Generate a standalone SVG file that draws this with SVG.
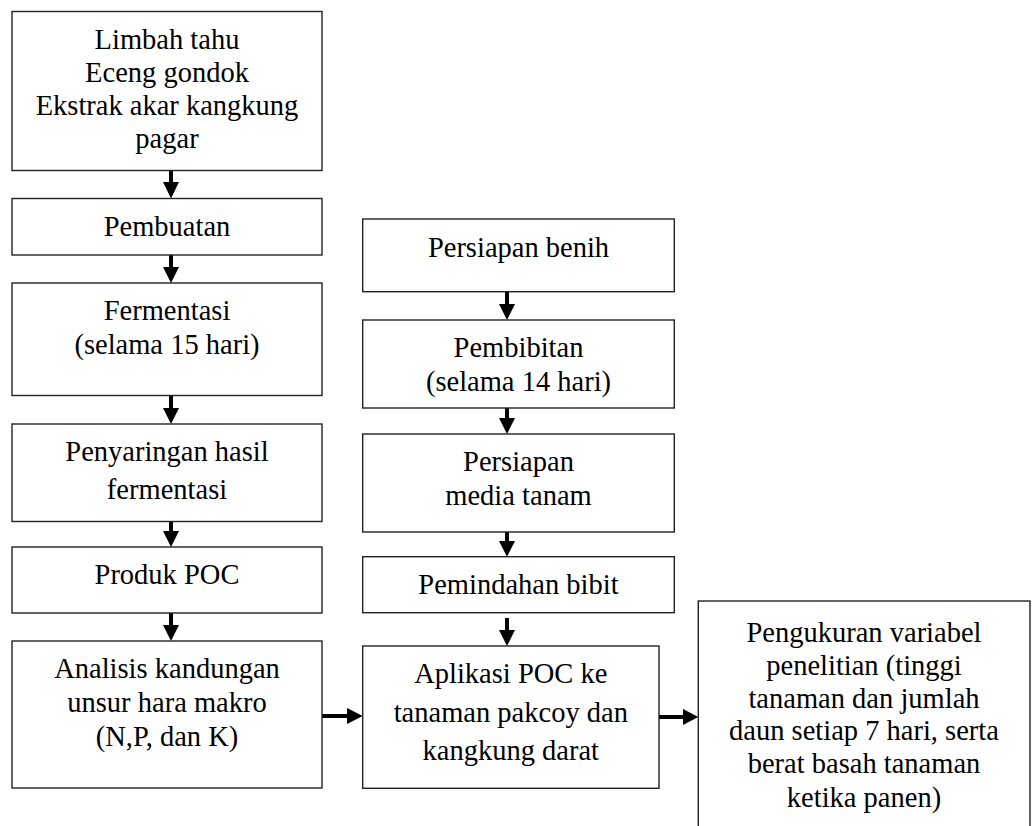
<svg xmlns="http://www.w3.org/2000/svg" width="1032" height="826" viewBox="0 0 1032 826">
<defs>
<style>
.box{fill:#fff;stroke:#222;stroke-width:1.4}
.lbl{font-family:"Liberation Serif","Times New Roman",serif;font-size:28.5px;fill:#000;text-anchor:middle}
.sh{stroke:#000;stroke-width:4;fill:none}
.hd{fill:#000}
</style>
</defs>
<rect width="1032" height="826" fill="#fff"/>
<g id="connectors">
<line class="sh" x1="171" y1="170.5" x2="171" y2="184"/><polygon class="hd" points="163,182 179,182 171,198.5"/>
<line class="sh" x1="171" y1="255" x2="171" y2="269"/><polygon class="hd" points="163,267 179,267 171,283"/>
<line class="sh" x1="171" y1="395.5" x2="171" y2="410"/><polygon class="hd" points="163,408 179,408 171,424"/>
<line class="sh" x1="171" y1="521.5" x2="171" y2="533"/><polygon class="hd" points="163,531 179,531 171,547"/>
<line class="sh" x1="171" y1="613" x2="171" y2="627"/><polygon class="hd" points="163,625 179,625 171,641"/>
<line class="sh" x1="507" y1="291.7" x2="507" y2="306"/><polygon class="hd" points="499,304 515,304 507,320"/>
<line class="sh" x1="507" y1="408" x2="507" y2="420"/><polygon class="hd" points="499,418 515,418 507,434"/>
<line class="sh" x1="507" y1="532" x2="507" y2="543"/><polygon class="hd" points="499,541 515,541 507,556.7"/>
<line class="sh" x1="507" y1="618" x2="507" y2="632"/><polygon class="hd" points="499,630 515,630 507,646"/>
<line class="sh" x1="322" y1="716" x2="349" y2="716"/><polygon class="hd" points="347,708 347,724 362.7,716"/>
<line class="sh" x1="659" y1="717" x2="685" y2="717"/><polygon class="hd" points="683,709 683,725 698.3,717"/>
</g>
<g id="n1"><rect class="box" x="12" y="11.5" width="310" height="159"/>
<text class="lbl"><tspan x="167" y="49">Limbah tahu</tspan><tspan x="167" y="82">Eceng gondok</tspan><tspan x="167" y="115">Ekstrak akar kangkung</tspan><tspan x="167" y="147.5">pagar</tspan></text></g>
<g id="n2"><rect class="box" x="12" y="198.5" width="310" height="56.5"/>
<text class="lbl" x="167" y="236">Pembuatan</text></g>
<g id="n3"><rect class="box" x="12" y="283" width="310" height="112.5"/>
<text class="lbl"><tspan x="167" y="319.5">Fermentasi</tspan><tspan x="167" y="353.5">(selama 15 hari)</tspan></text></g>
<g id="n4"><rect class="box" x="12" y="424" width="310" height="97.5"/>
<text class="lbl"><tspan x="167" y="461">Penyaringan hasil</tspan><tspan x="167" y="499">fermentasi</tspan></text></g>
<g id="n5"><rect class="box" x="12" y="547" width="310" height="66"/>
<text class="lbl" x="167" y="584.3">Produk POC</text></g>
<g id="n6"><rect class="box" x="12" y="641" width="310" height="147"/>
<text class="lbl"><tspan x="167" y="677.7">Analisis kandungan</tspan><tspan x="167" y="712.3">unsur hara makro</tspan><tspan x="167" y="745.7">(N,P, dan K)</tspan></text></g>
<g id="m1"><rect class="box" x="362.7" y="219" width="311.6" height="72.7"/>
<text class="lbl" x="518.5" y="256.7">Persiapan benih</text></g>
<g id="m2"><rect class="box" x="362.7" y="320" width="311.6" height="88"/>
<text class="lbl"><tspan x="518.5" y="356.7">Pembibitan</tspan><tspan x="518.5" y="390.7">(selama 14 hari)</tspan></text></g>
<g id="m3"><rect class="box" x="362.7" y="434" width="311.6" height="98"/>
<text class="lbl"><tspan x="518.5" y="471">Persiapan</tspan><tspan x="518.5" y="505">media tanam</tspan></text></g>
<g id="m4"><rect class="box" x="362.7" y="556.7" width="311.6" height="56"/>
<text class="lbl" x="518.5" y="594.3">Pemindahan bibit</text></g>
<g id="m5"><rect class="box" x="362.7" y="646" width="296.3" height="142.3"/>
<text class="lbl"><tspan x="510.8" y="683.3">Aplikasi POC ke</tspan><tspan x="510.8" y="721.7">tanaman pakcoy dan</tspan><tspan x="510.8" y="760">kangkung darat</tspan></text></g>
<g id="r1"><rect class="box" x="698.3" y="601" width="331.7" height="260"/>
<text class="lbl"><tspan x="864" y="641.7">Pengukuran variabel</tspan><tspan x="864" y="674.7">penelitian (tinggi</tspan><tspan x="864" y="707.7">tanaman dan jumlah</tspan><tspan x="864" y="740">daun setiap 7 hari, serta</tspan><tspan x="864" y="773.3">berat basah tanaman</tspan><tspan x="864" y="806.7">ketika panen)</tspan></text></g>
</svg>
